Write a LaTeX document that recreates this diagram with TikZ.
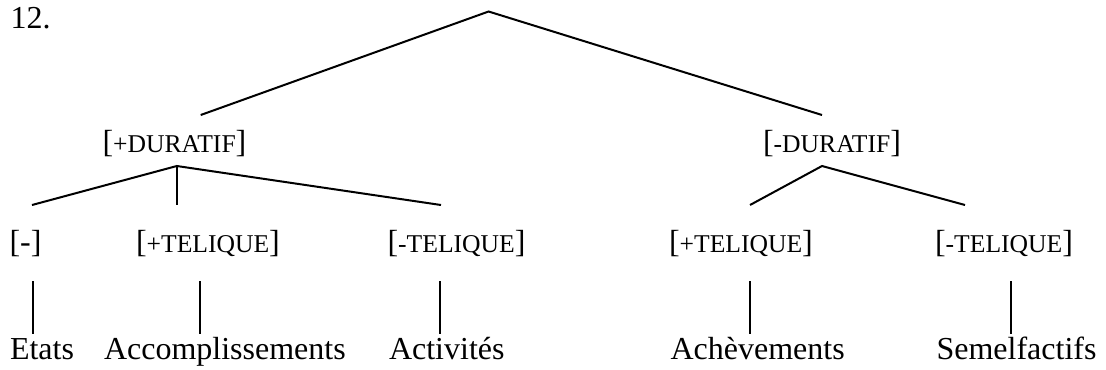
\documentclass[tikz,border=0pt]{standalone}
\usepackage{fontspec}
\setmainfont{Liberation Serif}
\newcommand{\smc}[1]{{\fontsize{9.6pt}{11pt}\selectfont #1}}
\begin{document}
\begin{tikzpicture}[x=0.375pt,y=-0.375pt,
  lbl/.style={anchor=base west,inner sep=0pt,font=\fontsize{12pt}{14pt}\selectfont},
  edge/.style={line width=0.75pt,line cap=butt}]
\useasboundingbox (0,0) rectangle (1106,369);
% texts
\node[lbl] (num) at (10,28.5) {12.};
\node[lbl] (pdur) at (102,152) {[\smc{+DURATIF}]};
\node[lbl] (mdur) at (762.5,152) {[\smc{-DURATIF}]};
\node[lbl] (m0) at (9,252) {[-]};
\node[lbl] (ptel1) at (135.5,252) {[\smc{+TELIQUE}]};
\node[lbl] (mtel1) at (387,252) {[\smc{-TELIQUE}]};
\node[lbl] (ptel2) at (668.5,252) {[\smc{+TELIQUE}]};
\node[lbl] (mtel2) at (934.5,252) {[\smc{-TELIQUE}]};
\node[lbl] (etats) at (9.5,359) {Etats};
\node[lbl] (accomp) at (103.5,359) {Accomplissements};
\node[lbl] (activ) at (388.5,359) {Activités};
\node[lbl] (acheve) at (670,359) {Achèvements};
\node[lbl] (semel) at (936,359) {Semelfactifs};
% branch points
\coordinate (root) at (488.6,11.5);
\coordinate (pdurT) at (200.7,115);
\coordinate (mdurT) at (822,115);
\coordinate (pdurB) at (176.8,166);
\coordinate (mdurB) at (822,166);
\coordinate (m0T) at (32,205);
\coordinate (ptel1T) at (176.8,205);
\coordinate (mtel1T) at (441,205);
\coordinate (ptel2T) at (750,205);
\coordinate (mtel2T) at (965,205);
\coordinate (m0B) at (33,281);
\coordinate (etatsT) at (33,334);
\coordinate (ptel1B) at (200,281);
\coordinate (accompT) at (200,334);
\coordinate (mtel1B) at (440,281);
\coordinate (activT) at (440,334);
\coordinate (ptel2B) at (750,281);
\coordinate (acheveT) at (750,334);
\coordinate (mtel2B) at (1011,281);
\coordinate (semelT) at (1011,334);
% connectors
\draw[edge] (pdurT) -- (root) -- (mdurT);
\draw[edge] (m0T) -- (pdurB) -- (mtel1T);
\draw[edge] (pdurB) -- (ptel1T);
\draw[edge] (ptel2T) -- (mdurB) -- (mtel2T);
\draw[edge] (m0B) -- (etatsT);
\draw[edge] (ptel1B) -- (accompT);
\draw[edge] (mtel1B) -- (activT);
\draw[edge] (ptel2B) -- (acheveT);
\draw[edge] (mtel2B) -- (semelT);
\end{tikzpicture}
\end{document}
